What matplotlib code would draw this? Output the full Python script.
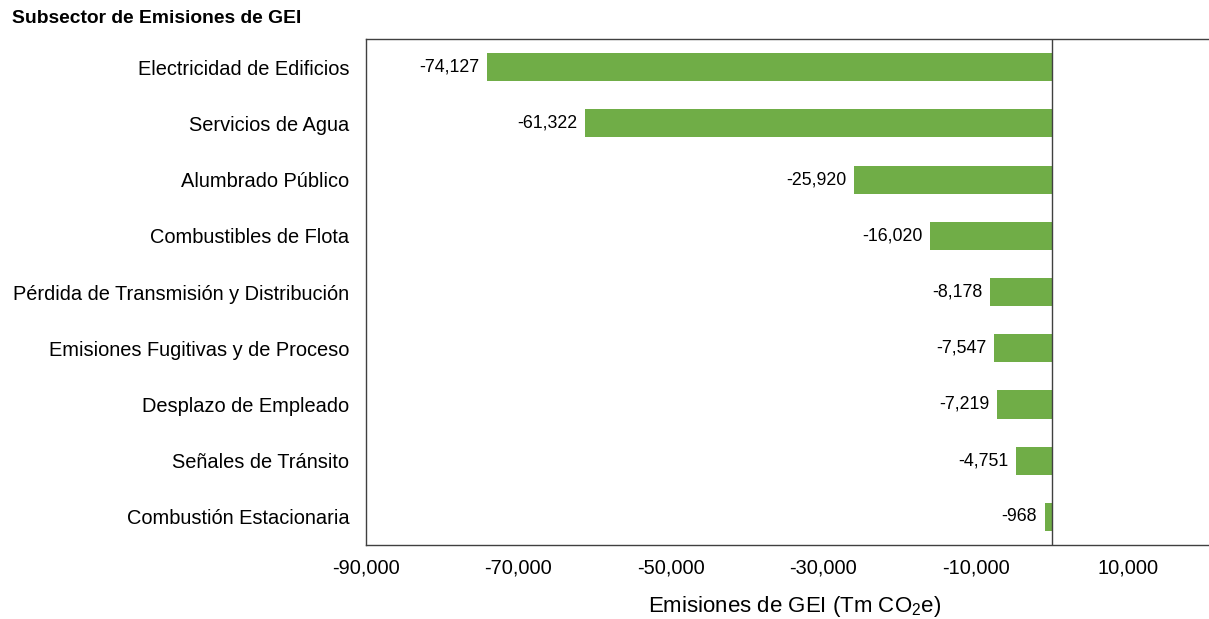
import matplotlib.pyplot as plt
from matplotlib.ticker import FuncFormatter

plt.rcParams['font.family'] = ['Liberation Sans', 'DejaVu Sans']
plt.rcParams['mathtext.fontset'] = 'custom'
plt.rcParams['mathtext.rm'] = 'Liberation Sans'
plt.rcParams['mathtext.it'] = 'Liberation Sans:italic'
plt.rcParams['mathtext.bf'] = 'Liberation Sans:bold'

# Emisiones por subsector (Tm CO2e)
subsectores = [
    'Electricidad de Edificios',
    'Servicios de Agua',
    'Alumbrado Público',
    'Combustibles de Flota',
    'Pérdida de Transmisión y Distribución',
    'Emisiones Fugitivas y de Proceso',
    'Desplazo de Empleado',
    'Señales de Tránsito',
    'Combustión Estacionaria',
]
valores = [-74127, -61322, -25920, -16020, -8178, -7547, -7219, -4751, -968]
ticks_x = [-90000, -70000, -50000, -30000, -10000, 10000]

fig = plt.figure(figsize=(12.09, 6.19), dpi=100)
ax = fig.add_axes([0.3027, 0.1195, 0.6973, 0.8175])

pos = list(range(len(subsectores)))
ax.barh(pos, valores, height=0.5, color='#70AD47', zorder=2)
ax.axvline(0, color='#404040', lw=1.0, zorder=3)

for y, v in zip(pos, valores):
    ax.text(v - 1000, y, f'{v:,}', ha='right', va='center', fontsize=12.8, color='black')

ax.set_xlim(-90000, 20600)
ax.set_ylim(len(subsectores) - 0.5, -0.5)
ax.set_yticks(pos)
ax.set_yticklabels(subsectores, fontsize=14.4)
ax.set_xticks(ticks_x)
ax.xaxis.set_major_formatter(FuncFormatter(lambda x, _: f'{int(x):,}'))
ax.tick_params(axis='x', length=0, labelsize=14.4, pad=10)
ax.tick_params(axis='y', length=0, pad=12)

for s in ['left', 'top', 'bottom']:
    ax.spines[s].set_color('#404040')
    ax.spines[s].set_linewidth(1.0)
ax.spines['right'].set_visible(False)

ax.set_xlabel('Emisiones de GEI (Tm CO$_\\mathrm{2}$e)', fontsize=16)
ax.xaxis.set_label_coords(0.508, -0.097)
fig.text(0.01, 0.97, 'Subsector de Emisiones de GEI', fontsize=13.9, fontweight='bold', va='center')

fig.savefig('out.png', dpi=100)
